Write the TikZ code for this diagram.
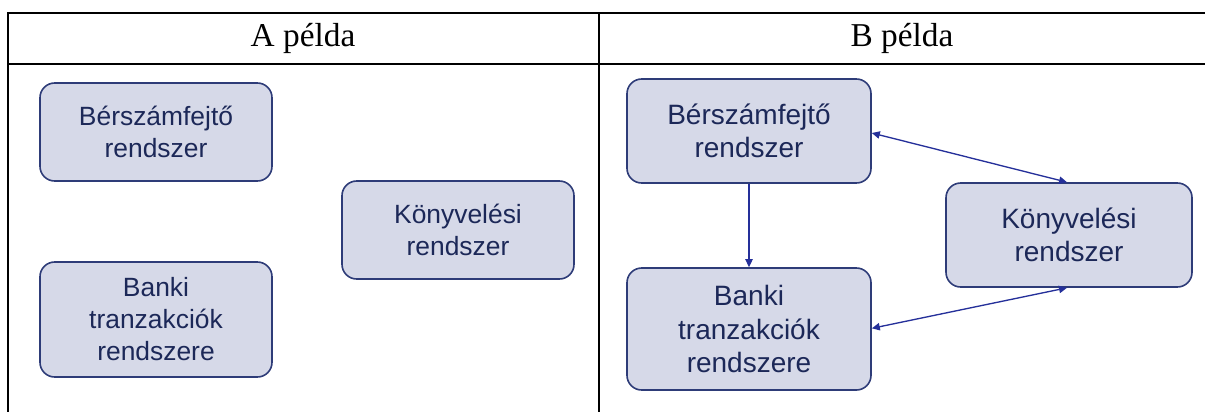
\documentclass[tikz,border=0pt]{standalone}
\usepackage{fontspec}
\setmainfont{Liberation Serif}
\newfontfamily\boxfont{Liberation Sans}
\usetikzlibrary{arrows.meta}
\definecolor{boxfill}{HTML}{D6D9E8}
\definecolor{boxline}{HTML}{2E3C78}
\definecolor{boxtext}{HTML}{1C2858}
\definecolor{linkcol}{HTML}{25309A}
\begin{document}
\begin{tikzpicture}[x=0.75pt,y=-0.75pt,
  sysbox/.style={draw=boxline,fill=boxfill,line width=1.2pt,rounded corners=11pt,
    text=boxtext,align=center,inner sep=0pt,font=\boxfont\fontsize{19.8}{24}\selectfont},
  sysboxB/.style={sysbox,font=\boxfont\fontsize{21}{25}\selectfont},
  link/.style={draw=linkcol,line width=1pt,-{Triangle[length=6pt,width=5.5pt]}},
  dlink/.style={link,{Triangle[length=6pt,width=5.5pt]}-{Triangle[length=6pt,width=5.5pt]}},
  rule/.style={line width=1.5pt,black},
  head/.style={font=\fontsize{25}{29}\selectfont,anchor=center}]
\useasboundingbox (0,0) rectangle (1205,412);
% table frame
\draw[rule] (7,13) -- (1205,13);
\draw[line width=0.8pt] (7,64) -- (1205,64);
\draw[rule] (7.5,12) -- (7.5,412);
\draw[rule] (599,12) -- (599,412);
\node[head] (hA) at (303,38) {A példa};
\node[head] (hB) at (902,38) {B példa};
% column A: three separate systems
\node[sysbox,minimum width=232*0.75pt,minimum height=98*0.75pt] (aB) at (156,132) {Bérszámfejtő\\rendszer};
\node[sysbox,minimum width=232*0.75pt,minimum height=115*0.75pt] (aT) at (156,319.5) {Banki\\tranzakciók\\rendszere};
\node[sysbox,minimum width=232*0.75pt,minimum height=98*0.75pt] (aK) at (458,230) {Könyvelési\\rendszer};
% column B: connected systems
\node[sysboxB,minimum width=244*0.75pt,minimum height=104*0.75pt] (bB) at (749,131) {Bérszámfejtő\\rendszer};
\node[sysboxB,minimum width=244*0.75pt,minimum height=122*0.75pt] (bT) at (749,329) {Banki\\tranzakciók\\rendszere};
\node[sysboxB,minimum width=246*0.75pt,minimum height=104*0.75pt] (bK) at (1069,235) {Könyvelési\\rendszer};
\draw[link] (bB.south) -- (bT.north);
\draw[dlink] ([yshift=-1.5pt]bB.east) -- ([xshift=-1.5pt]bK.north);
\draw[dlink] ([yshift=0.5pt]bT.east) -- ([xshift=-1.5pt]bK.south);
\end{tikzpicture}
\end{document}
